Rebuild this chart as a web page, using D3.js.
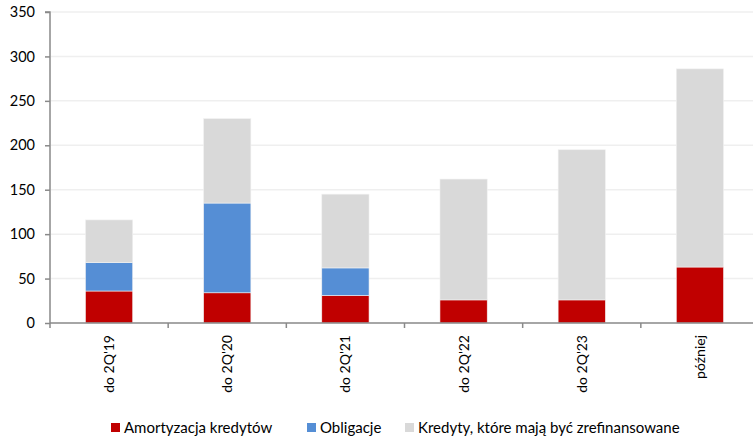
<!DOCTYPE html>
<html>
<head>
<meta charset="utf-8">
<script src="https://cdn.jsdelivr.net/npm/d3@7"></script>
<style>
  html, body { margin: 0; padding: 0; background: #fff; }
  svg { display: block; }
  text { font-family: Lato, "Liberation Sans", sans-serif; fill: #000; }
</style>
</head>
<body>
<svg id="chart" width="753" height="437"></svg>
<script>
// Repayment schedule (mld) by period
const categories = ["do 2Q'19", "do 2Q'20", "do 2Q'21", "do 2Q'22", "do 2Q'23", "później"];
const amortyzacja = [36, 34, 31, 26, 26, 63];
const obligacje = [32, 101, 31, 0, 0, 0];
const kredyty = [48, 95, 83, 136, 169, 223];
const seriesNames = ["Amortyzacja kredytów", "Obligacje", "Kredyty, które mają być zrefinansowane"];
const seriesColors = ["#c00000", "#558ed5", "#d9d9d9"];
const yTicks = [0, 50, 100, 150, 200, 250, 300, 350];

const svg = d3.select("#chart");
const margin = { left: 50, top: 12, right: 759, bottom: 323 };

const x = d3.scaleBand().domain(categories).range([margin.left, margin.right]).paddingInner(0.6).paddingOuter(0.3);
const xTicksScale = d3.scaleBand().domain(categories).range([margin.left, margin.right]);
const y = d3.scaleLinear().domain([0, 350]).range([margin.bottom, margin.top]);

const rows = categories.map((c, i) => ({ cat: c, a: amortyzacja[i], o: obligacje[i], k: kredyty[i] }));
const stack = d3.stack().keys(["a", "o", "k"]);
const stacked = stack(rows);

// horizontal gridlines
svg.append("g").selectAll("line").data(yTicks.filter(d => d > 0)).join("line")
  .attr("x1", margin.left + 1).attr("x2", 753)
  .attr("y1", d => y(d)).attr("y2", d => y(d))
  .attr("stroke", "#efefef").attr("stroke-width", 1.5);

// stacked bars
svg.append("g").selectAll("g").data(stacked).join("g")
  .attr("fill", (d, i) => seriesColors[i])
  .selectAll("rect").data(d => d.filter(p => p[1] - p[0] > 0)).join("rect")
  .attr("x", d => x(d.data.cat))
  .attr("width", x.bandwidth())
  .attr("y", d => y(d[1]))
  .attr("height", d => y(d[0]) - y(d[1]))
  .attr("stroke", "#f2f2f2").attr("stroke-width", 0.6);

// y axis
const yAxis = d3.axisLeft(y).tickValues(yTicks).tickSize(5).tickPadding(10);
const gy = svg.append("g").attr("transform", `translate(${margin.left},0)`).call(yAxis);
gy.select(".domain").attr("stroke", "#898989").attr("stroke-width", 1.5).attr("d", `M-5,${y(350)}H0V${y(0)}`);
gy.selectAll(".tick line").attr("stroke", "#898989").attr("stroke-width", 1.5);
gy.selectAll(".tick text").style("font-size", "14.5px").style("font-family", "Lato, 'Liberation Sans', sans-serif").attr("fill", "#000");

// x axis with ticks at band boundaries
const gx = svg.append("g").attr("transform", `translate(0,${margin.bottom})`);
gx.append("line").attr("x1", margin.left).attr("x2", 753).attr("y1", 0).attr("y2", 0)
  .attr("stroke", "#898989").attr("stroke-width", 1.5);
gx.selectAll("line.tk").data(categories).join("line").attr("class", "tk")
  .attr("x1", d => xTicksScale(d)).attr("x2", d => xTicksScale(d))
  .attr("y1", 0).attr("y2", 5)
  .attr("stroke", "#898989").attr("stroke-width", 1.5);
gx.selectAll("text").data(categories).join("text")
  .attr("transform", d => `translate(${x(d) + x.bandwidth() / 2 + 5},12) rotate(-90)`)
  .attr("text-anchor", "end")
  .style("font-size", "14px")
  .text(d => d);

// legend
const legendX = [111, 307, 405];
const lg = svg.append("g").selectAll("g").data(seriesNames).join("g")
  .attr("transform", (d, i) => `translate(${legendX[i]},423)`);
lg.append("rect").attr("width", 9).attr("height", 9).attr("fill", (d, i) => seriesColors[i]);
lg.append("text").attr("x", 13).attr("y", 9.5).style("font-size", "15px").text(d => d);
</script>
</body>
</html>
